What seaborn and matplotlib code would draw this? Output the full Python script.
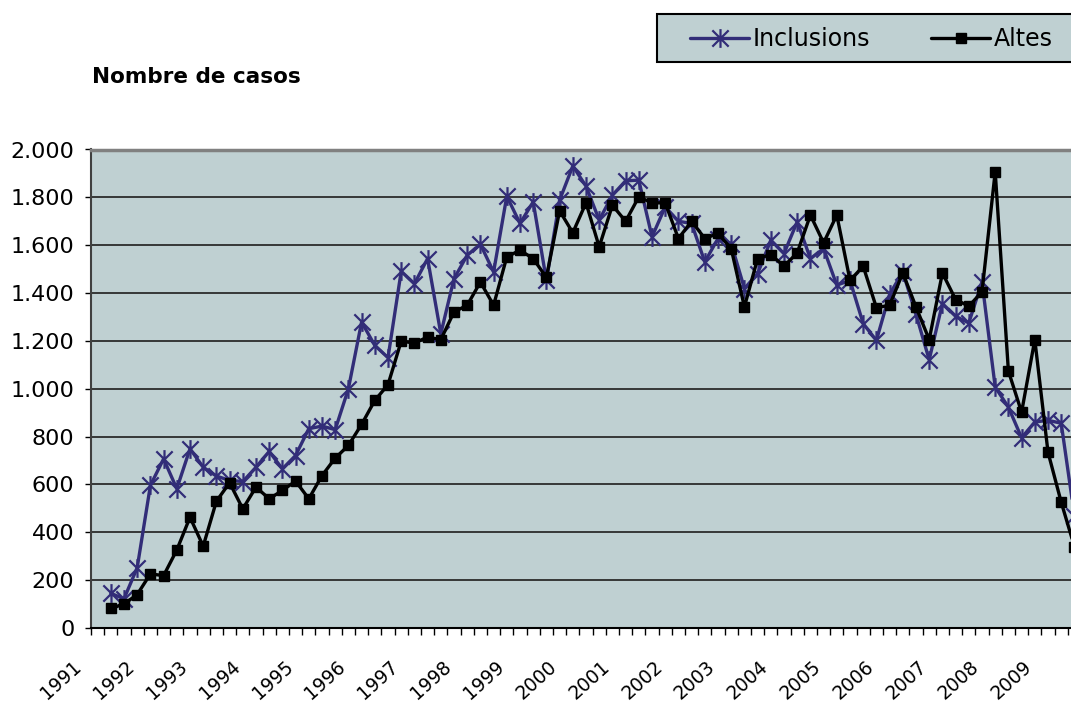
import numpy as np
import pandas as pd
import seaborn as sns
import matplotlib.pyplot as plt
from matplotlib.path import Path
from matplotlib.patches import Rectangle
from matplotlib.ticker import FuncFormatter
from matplotlib.transforms import ScaledTranslation, blended_transform_factory

# dades trimestrals (el primer trimestre de 1991 no té valor)
years = [str(y) for y in range(1991, 2010)]
inclusions = [145, 122, 252, 596, 707, 582, 749, 672, 635, 617, 612, 672, 738, 665,
              721, 833, 844, 829, 1000, 1279, 1181, 1130, 1491, 1439, 1544, 1230,
              1460, 1558, 1604, 1488, 1805, 1691, 1781, 1453, 1788, 1931, 1847, 1705,
              1809, 1869, 1872, 1635, 1760, 1700, 1691, 1530, 1628, 1607, 1419, 1481,
              1621, 1565, 1698, 1544, 1586, 1433, 1453, 1272, 1202, 1395, 1488, 1311,
              1121, 1356, 1303, 1275, 1447, 1007, 923, 795, 861, 868, 856, 470]
altes = [82, 100, 140, 226, 219, 326, 463, 342, 530, 607, 498, 589, 540, 575,
         614, 540, 637, 710, 763, 851, 951, 1017, 1199, 1191, 1216, 1205,
         1321, 1349, 1446, 1349, 1551, 1579, 1544, 1465, 1744, 1652, 1777, 1593,
         1767, 1700, 1802, 1777, 1777, 1628, 1700, 1628, 1649, 1586, 1342, 1544,
         1561, 1512, 1568, 1726, 1610, 1726, 1453, 1512, 1339, 1349, 1484, 1342,
         1205, 1484, 1373, 1345, 1405, 1907, 1074, 902, 1205, 735, 526, 340]

trimestre = np.arange(1, len(altes) + 1)
df = pd.DataFrame({'trimestre': trimestre, 'Inclusions': inclusions, 'Altes': altes})

sns.set_style("white")
plt.rcParams['font.family'] = ['DejaVu Sans']
plt.rcParams['text.color'] = 'black'
plt.rcParams['xtick.color'] = 'black'
plt.rcParams['ytick.color'] = 'black'

fons = '#BFD0D2'
lila = '#322D78'
estrella = Path([(-1, -1), (1, 1), (-1, 1), (1, -1), (0, -1.15), (0, 1.15)],
                [Path.MOVETO, Path.LINETO] * 3)

fig = plt.figure(figsize=(10.71, 7.04), dpi=100)
ax = fig.add_axes([91/1071, 1 - 628/704, 1 - 91/1071, (628 - 149.5)/704])
ax.set_facecolor(fons)

sns.lineplot(data=df, x='trimestre', y='Inclusions', ax=ax, color=lila, lw=2.4,
             marker=estrella, ms=13.5, mew=1.6, mfc='none', mec=lila, label='Inclusions')
sns.lineplot(data=df, x='trimestre', y='Altes', ax=ax, color='black', lw=2.4,
             marker='s', ms=7.8, mew=1, mec='black', label='Altes')
if ax.get_legend():
    ax.get_legend().remove()

ax.set_yticks(np.arange(0, 2001, 200))
ax.yaxis.set_major_formatter(FuncFormatter(lambda v, p: f"{v:,.0f}".replace(",", ".")))
ax.grid(axis='y', color='#2b2b2b', lw=1.3)
ax.set_axisbelow(True)

ax.set_xticks([])
ax.set_xticks(np.arange(-0.5, 75, 1), minor=True)
ax.tick_params(axis='x', which='minor', length=5, width=1, color='black', direction='out', bottom=True)
ax.tick_params(axis='y', length=4, width=1, color='black', direction='out', left=True, pad=8, labelsize=16)
ax.set_xlim(-0.5, -0.5 + (1071 - 91)/13.2)
ax.set_ylim(0, 2000)
ax.set_xlabel('')
ax.set_ylabel('')

# etiquetes d'any, inclinades, una cada quatre trimestres
trans = blended_transform_factory(ax.transData, ax.transAxes) + \
    ScaledTranslation(-25/100, -29/100, fig.dpi_scale_trans)
for k, y in enumerate(years):
    ax.text(4 * k, 0, y, transform=trans, rotation=42, ha='right', va='top',
            rotation_mode='anchor', fontsize=13.5, clip_on=False)

ax.spines['left'].set_color('#404040')
ax.spines['left'].set_linewidth(1.5)
ax.spines['bottom'].set_color('black')
ax.spines['bottom'].set_linewidth(1.5)
ax.spines['top'].set_color('#808080')
ax.spines['top'].set_linewidth(2.5)
ax.spines['right'].set_visible(False)

fig.text(92/1071, 1 - 77/704, "Nombre de casos", fontsize=15.5, fontweight='bold', va='center')

fig.add_artist(Rectangle((657/1071, 1 - 62/704), (1090 - 657)/1071, 48/704,
                         transform=fig.transFigure, facecolor=fons, edgecolor='black', lw=1.5))
handles, labels = ax.get_legend_handles_labels()
fig.legend(handles, labels, loc='center left', bbox_to_anchor=(690/1071, 1 - 39/704),
           ncol=2, frameon=False, fontsize=17, handlelength=2.5, handletextpad=0.15,
           columnspacing=2.6, borderpad=0, borderaxespad=0)

fig.savefig('out.png', dpi=100)
